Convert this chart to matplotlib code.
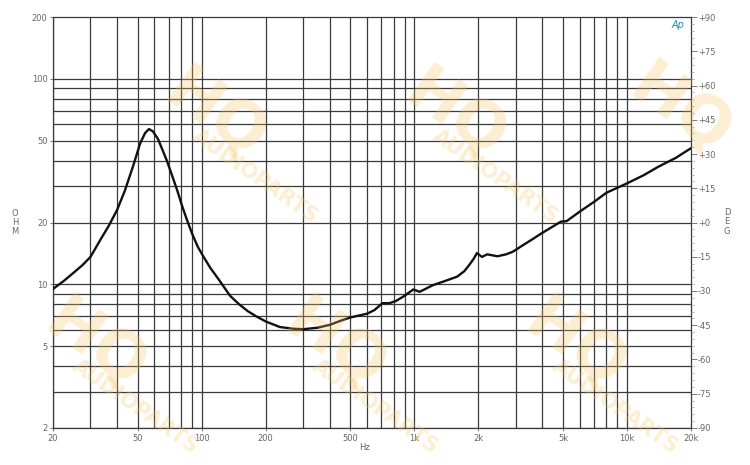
import numpy as np
import matplotlib
matplotlib.use("Agg")
from matplotlib import pyplot as plt
from matplotlib.ticker import FixedLocator, NullFormatter, MultipleLocator

# impedance curve (Hz, ohm)
freq = [20, 22.5, 25, 27.5, 30, 33.3, 36.5, 40, 43.5, 47.5, 51.4, 54.2, 56.5,
        59, 62.3, 65.5, 68.6, 72.5, 76.9, 81, 85.4, 90.5, 96, 103, 110, 120,
        136, 150, 165, 180, 200, 233, 270, 300, 350, 400, 450, 500, 600, 650,
        708, 764, 820, 900, 990, 1060, 1150, 1220, 1400, 1590, 1720, 1820,
        1900, 1970, 2080, 2200, 2460, 2700, 2900, 3240, 3600, 3960, 4400,
        4890, 5200, 6000, 7000, 8000, 10000, 12000, 14000, 17000, 20000]
ohm = [9.5, 10.4, 11.4, 12.4, 13.6, 16.4, 19.2, 23.0, 28.5, 37.4, 48.6,
       54.5, 57, 55.5, 51, 45, 40, 34, 28.5, 24, 20.5, 17.5, 15.2, 13.4, 12.0,
       10.6, 8.8, 8.0, 7.4, 7.0, 6.6, 6.2, 6.08, 6.05, 6.15, 6.35, 6.65, 6.9,
       7.2, 7.5, 8.1, 8.1, 8.3, 8.8, 9.45, 9.2, 9.6, 9.9, 10.4, 10.9, 11.6,
       12.5, 13.3, 14.2, 13.6, 14.0, 13.7, 14.0, 14.4, 15.5, 16.6, 17.7, 18.9,
       20.2, 20.3, 22.6, 25.2, 27.9, 31, 34.0, 37.3, 41.3, 46]

x_major = [20, 50, 100, 200, 500, 1000, 2000, 5000, 10000, 20000]
x_labels = ["20", "50", "100", "200", "500", "1k", "2k", "5k", "10k", "20k"]
x_grid = [20, 30, 40, 50, 60, 70, 80, 90, 100, 200, 300, 400, 500, 600, 700,
          800, 900, 1000, 2000, 3000, 4000, 5000, 6000, 7000, 8000, 9000, 10000]
y_major = [2, 5, 10, 20, 50, 100, 200]
y_grid = [2, 3, 4, 5, 6, 7, 8, 9, 10, 20, 30, 40, 50, 60, 70, 80, 90, 100]
deg_ticks = list(range(-90, 91, 15))

txt = "#666666"
fig = plt.figure(figsize=(7.5, 4.65), dpi=100)
ax = fig.add_axes([0.0707, 0.0796, 0.8506, 0.8838])
ax.set_xscale("log")
ax.set_yscale("log")
ax.set_xlim(20, 20000)
ax.set_ylim(2, 200)

for g in x_grid:
    ax.axvline(g, color="#3a3a3a", lw=0.9, zorder=1)
for g in y_grid:
    ax.axhline(g, color="#3a3a3a", lw=0.9, zorder=1)

ax.plot(freq, ohm, color="#111111", lw=1.7, zorder=3, solid_joinstyle="round")

ax.xaxis.set_major_locator(FixedLocator(x_major))
ax.set_xticklabels(x_labels)
ax.xaxis.set_minor_formatter(NullFormatter())
ax.xaxis.set_minor_locator(FixedLocator([]))
ax.yaxis.set_major_locator(FixedLocator(y_major))
ax.set_yticklabels([str(v) for v in y_major])
ax.yaxis.set_minor_locator(FixedLocator([]))
ax.yaxis.set_minor_formatter(NullFormatter())
ax.tick_params(axis="both", which="major", length=2, width=0.6,
               labelsize=6, colors=txt, pad=2)
for s in ax.spines.values():
    s.set_color("#3a3a3a")
    s.set_linewidth(0.9)

ax2 = ax.twinx()
ax2.set_ylim(-90, 90)
ax2.set_yticks(deg_ticks)
ax2.set_yticklabels([("+%d" % v) if v >= 0 else str(v) for v in deg_ticks])
ax2.yaxis.set_minor_locator(MultipleLocator(3))
ax2.tick_params(axis="y", which="major", length=4, width=0.6,
                labelsize=6, colors=txt, pad=1)
ax2.tick_params(axis="y", which="minor", length=2, width=0.5, colors="#999999")
for s in ax2.spines.values():
    s.set_visible(False)

fig.text(365 / 750, 1 - 447 / 465, "Hz", fontsize=6, color=txt,
         ha="center", va="center")
for i, ch in enumerate("OHM"):
    fig.text(15 / 750, 1 - (213 + 9 * i) / 465, ch, fontsize=6, color=txt,
             ha="center", va="center")
for i, ch in enumerate("DEG"):
    fig.text(727 / 750, 1 - (212 + 9.5 * i) / 465, ch, fontsize=6, color=txt,
             ha="center", va="center")
fig.text(678 / 750, 1 - 25 / 465, "Ap", fontsize=7, color="#2a8fa8",
         style="italic", ha="center", va="center")

# watermarks
wm = "#f7c35e"
marks = [(215, 115), (455, 115), (95, 345), (335, 345), (575, 345)]
for (hx, hy) in marks:
    fig.text(hx / 750, 1 - hy / 465, "HQ", fontsize=46, fontweight="bold",
             color=wm, alpha=0.28, rotation=-35, ha="center", va="center")
    fig.text((hx + 40) / 750, 1 - (hy + 62) / 465, "AUDIOPARTS", fontsize=15,
             fontweight="bold", color=wm, alpha=0.28, rotation=-35,
             ha="center", va="center")
fig.text(680 / 750, 1 - 110 / 465, "HQ", fontsize=46, fontweight="bold",
         color=wm, alpha=0.28, rotation=-35, ha="center", va="center")

fig.savefig("out.png", dpi=100, facecolor="white")
